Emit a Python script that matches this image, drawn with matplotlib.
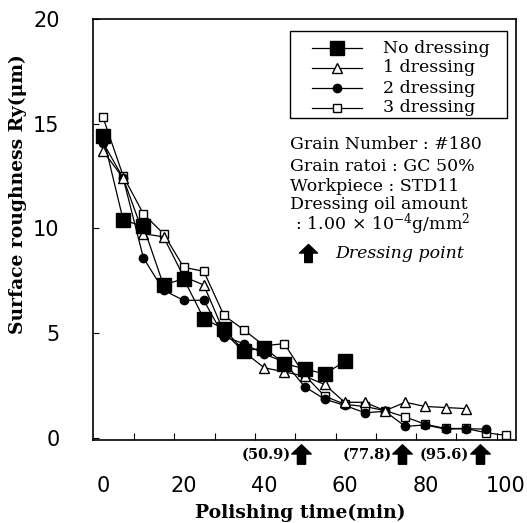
import matplotlib
matplotlib.use("Agg")
import matplotlib.pyplot as plt
from matplotlib.path import Path
from matplotlib.patches import Rectangle

# ---- data ----
t_no = [0, 5, 10, 15, 20, 25, 30, 35, 40, 45, 50, 55, 60]
no_dressing = [14.4, 10.4, 10.1, 7.3, 7.6, 5.7, 5.2, 4.15, 4.3, 3.55, 3.3, 3.05, 3.65]

t_one = [0, 5, 10, 15, 20, 25, 30, 35, 40, 45, 50, 55, 60, 65, 70, 75, 80, 85, 90]
one_dressing = [13.7, 12.4, 9.75, 9.6, 7.7, 7.3, 5.05, 4.1, 3.35, 3.15, 2.95, 2.55,
                1.7, 1.7, 1.3, 1.7, 1.5, 1.45, 1.4]

t_two = [0, 5, 10, 15, 20, 25, 30, 35, 40, 45, 50, 55, 60, 65, 70, 75, 80, 85, 90, 95]
two_dressing = [14.1, 12.4, 8.6, 7.05, 6.57, 6.57, 4.83, 4.5, 4.0, 3.63, 2.45, 1.85,
                1.55, 1.2, 1.27, 0.55, 0.62, 0.42, 0.44, 0.42]

t_three = [0, 5, 10, 15, 20, 25, 30, 35, 40, 45, 50, 55, 60, 65, 70, 75, 80, 85, 90, 95, 100]
three_dressing = [15.3, 12.5, 10.7, 9.75, 8.15, 7.95, 5.85, 5.15, 4.4, 4.5, 3.0, 2.0,
                  1.6, 1.5, 1.3, 1.0, 0.65, 0.45, 0.45, 0.25, 0.12]

series_labels = ["No dressing", "1 dressing", "2 dressing", "3 dressing"]
dressing_labels = ["(50.9)", "(77.8)", "(95.6)"]
x_ticks = [0, 20, 40, 60, 80, 100]
y_ticks = [0, 5, 10, 15, 20]
info_lines = ["Grain Number : #180", "Grain ratoi : GC 50%", "Workpiece : STD11",
              "Dressing oil amount", r" : 1.00 $\times$ 10$^{-4}$g/mm$^{2}$"]

# ---- figure ----
plt.rcParams['mathtext.fontset'] = 'dejavuserif'
fig = plt.figure(figsize=(5.27, 5.23), dpi=100)
L, R, B, T = 93/527, 516/527, 1-440/523, 1-19/523
ax = fig.add_axes([L, B, R-L, T-B])
ax.set_xlim(-2.5, 102.5)
ax.set_ylim(-0.1, 20)

lw = 0.9
st_three = dict(color='black', lw=lw, marker='s', ms=6, mfc='white', mec='black', mew=1.0)
st_two = dict(color='black', lw=lw, marker='o', ms=6, mfc='black', mec='black')
st_one = dict(color='black', lw=lw, marker='^', ms=7.5, mfc='white', mec='black', mew=1.0)
st_no = dict(color='black', lw=lw, marker='s', ms=10.5, mfc='black', mec='black')

ax.plot(t_three, three_dressing, **st_three)
ax.plot(t_two, two_dressing, **st_two)
ax.plot(t_one, one_dressing, **st_one)
ax.plot(t_no, no_dressing, **st_no)

for s in ax.spines.values():
    s.set_linewidth(1.2)

ax.set_xticks(x_ticks)
ax.set_xticklabels([str(v) for v in x_ticks])
ax.set_yticks(y_ticks)
ax.set_yticklabels([str(v) for v in y_ticks])
ax.tick_params(axis='x', which='major', length=0, pad=26, labelsize=15)
ax.tick_params(axis='y', which='major', direction='in', length=4, pad=24, labelsize=15)
ax.set_xticks([7.7 + 10*i for i in range(10)], minor=True)
ax.tick_params(axis='x', which='minor', direction='in', length=5, width=0.8)
for lab in ax.get_xticklabels() + ax.get_yticklabels():
    lab.set_family('DejaVu Sans')

ax.set_xlabel("Polishing time(min)", family='DejaVu Serif', fontweight='bold', fontsize=13.5)
ax.xaxis.set_label_coords(0.49, -0.152)
ax.set_ylabel("Surface roughness Ry(μm)", family='DejaVu Serif', fontweight='bold', fontsize=13.5)
ax.yaxis.set_label_coords(-0.155, 0.585)

# up-arrow marker
arrow = Path([(0, 1.0), (1.0, 0.05), (0.42, 0.05), (0.42, -1.0), (-0.42, -1.0),
              (-0.42, 0.05), (-1.0, 0.05), (0, 1.0)],
             [Path.MOVETO] + [Path.LINETO]*6 + [Path.CLOSEPOLY])

arrow_x = [49.1, 74.2, 93.5]
for xa, lab in zip(arrow_x, dressing_labels):
    ax.plot([xa], [-0.78], marker=arrow, ms=14, color='black', clip_on=False)
    ax.text(xa - 2.6, -0.78, lab, ha='right', va='center', family='DejaVu Serif',
            fontweight='bold', fontsize=10.5, clip_on=False)

# manual legend
ax.add_patch(Rectangle((0.466, 0.765), 0.513, 0.206, transform=ax.transAxes,
                       fill=False, ec='black', lw=1.0))
rows = [0.931, 0.884, 0.836, 0.789]
styles = [st_no, st_one, st_two, st_three]
for fy, st, lab in zip(rows, styles, series_labels):
    ax.plot([0.518, 0.636], [fy, fy], transform=ax.transAxes, color='black', lw=lw)
    ax.plot([0.577], [fy], transform=ax.transAxes, ls='none',
            **{k: v for k, v in st.items() if k not in ('lw', 'color')})
    ax.text(0.686, fy, lab, transform=ax.transAxes, va='center', ha='left',
            family='DejaVu Serif', fontsize=12.5)

info_y = [0.701, 0.650, 0.603, 0.560, 0.513]
for fy, line in zip(info_y, info_lines):
    ax.text(0.466, fy, line, transform=ax.transAxes, va='center', ha='left',
            family='DejaVu Serif', fontsize=12.5)

ax.plot([0.508], [0.444], transform=ax.transAxes, marker=arrow, ms=13, color='black')
ax.text(0.572, 0.444, "Dressing point", transform=ax.transAxes, va='center', ha='left',
        family='DejaVu Serif', style='italic', fontsize=12.5)

fig.savefig("out.png", dpi=100)
